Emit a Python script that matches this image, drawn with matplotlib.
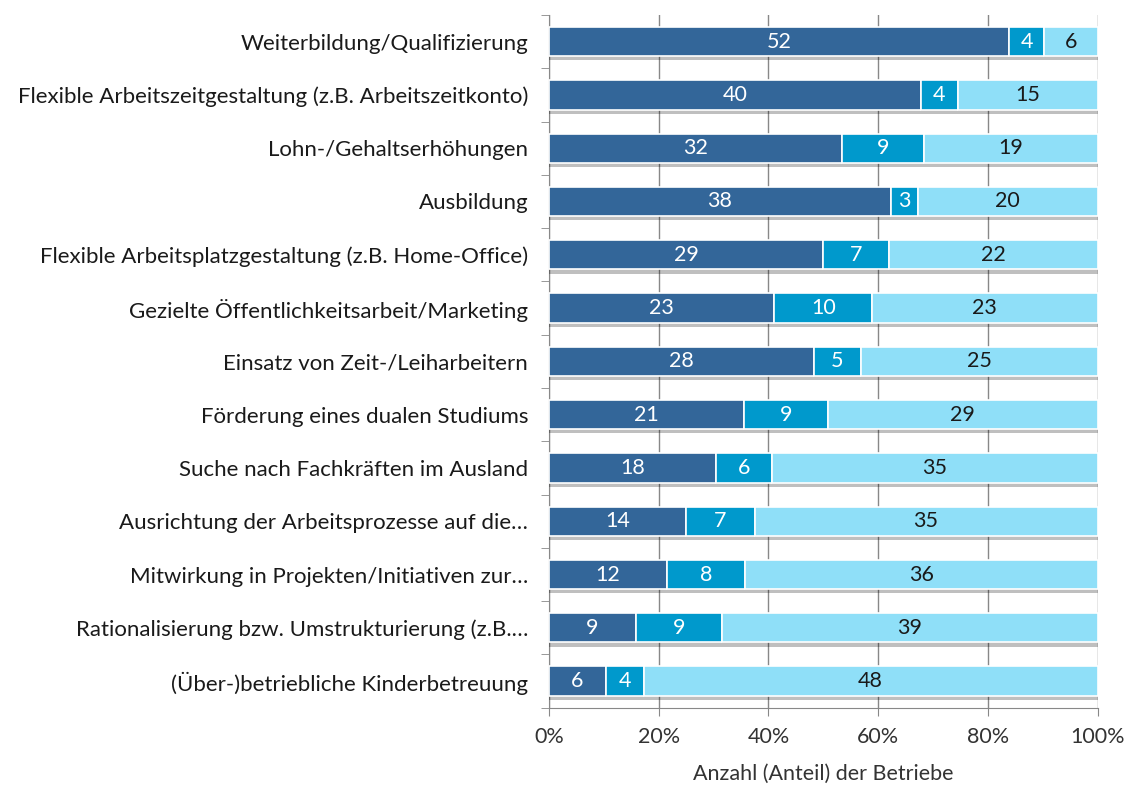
import matplotlib.pyplot as plt
import matplotlib.patheffects as pe
import numpy as np

plt.rcParams['font.family'] = ['Lato', 'DejaVu Sans']

categories = [
    "Weiterbildung/Qualifizierung",
    "Flexible Arbeitszeitgestaltung (z.B. Arbeitszeitkonto)",
    "Lohn-/Gehaltserhöhungen",
    "Ausbildung",
    "Flexible Arbeitsplatzgestaltung (z.B. Home-Office)",
    "Gezielte Öffentlichkeitsarbeit/Marketing",
    "Einsatz von Zeit-/Leiharbeitern",
    "Förderung eines dualen Studiums",
    "Suche nach Fachkräften im Ausland",
    "Ausrichtung der Arbeitsprozesse auf die…",
    "Mitwirkung in Projekten/Initiativen zur…",
    "Rationalisierung bzw. Umstrukturierung (z.B.…",
    "(Über-)betriebliche Kinderbetreuung",
]
series_a = [52, 40, 32, 38, 29, 23, 28, 21, 18, 14, 12, 9, 6]
series_b = [4, 4, 9, 3, 7, 10, 5, 9, 6, 7, 8, 9, 4]
series_c = [6, 15, 19, 20, 22, 23, 25, 29, 35, 35, 36, 39, 48]

colors = ["#336699", "#0099cc", "#8fdff8"]
text_colors = ["white", "white", "#1a1a1a"]

a = np.array(series_a, dtype=float)
b = np.array(series_b, dtype=float)
c = np.array(series_c, dtype=float)
total = a + b + c
shares = [a / total, b / total, c / total]
counts = [series_a, series_b, series_c]

fig = plt.figure(figsize=(11.31, 7.89), dpi=100)
ax = fig.add_axes([0.4854, 0.103, 0.485, 0.878])

y = np.arange(len(categories))
left = np.zeros(len(categories))
shadow = [pe.SimplePatchShadow(offset=(0, -3), shadow_rgbFace="black", alpha=0.25), pe.Normal()]
for share, cnt, col, tcol in zip(shares, counts, colors, text_colors):
    bars = ax.barh(y, share, left=left, height=0.55, color=col,
                   edgecolor="white", linewidth=1.2, zorder=3)
    for bar in bars:
        bar.set_path_effects(shadow)
    for yi, l, s, n in zip(y, left, share, cnt):
        ax.text(l + s / 2, yi, str(n), ha="center", va="center",
                color=tcol, fontsize=15.5, zorder=4)
    left = left + share

ax.set_xlim(0, 1)
ax.set_ylim(len(categories) - 0.5, -0.5)
ax.set_xticks(np.linspace(0, 1, 6))
ax.set_xticklabels([f"{int(v)}%" for v in np.linspace(0, 100, 6)], fontsize=15.5, color="#333333")
ax.set_yticks(y)
ax.set_yticklabels(categories, fontsize=16, color="#1a1a1a")
ax.tick_params(axis="y", length=0, pad=15)
ax.set_yticks(np.arange(-0.5, len(categories), 1), minor=True)
ax.tick_params(axis="y", which="minor", length=6, color="#888888")
ax.tick_params(axis="x", length=6, color="#888888", pad=8)
ax.xaxis.grid(True, color="#888888", linewidth=1, zorder=0)
ax.set_axisbelow(True)
for side in ["top", "right"]:
    ax.spines[side].set_visible(False)
for side in ["left", "bottom"]:
    ax.spines[side].set_color("#888888")
ax.set_xlabel("Anzahl (Anteil) der Betriebe", fontsize=15.5, color="#333333", labelpad=12)

fig.savefig("out.png", dpi=100, facecolor="white")
